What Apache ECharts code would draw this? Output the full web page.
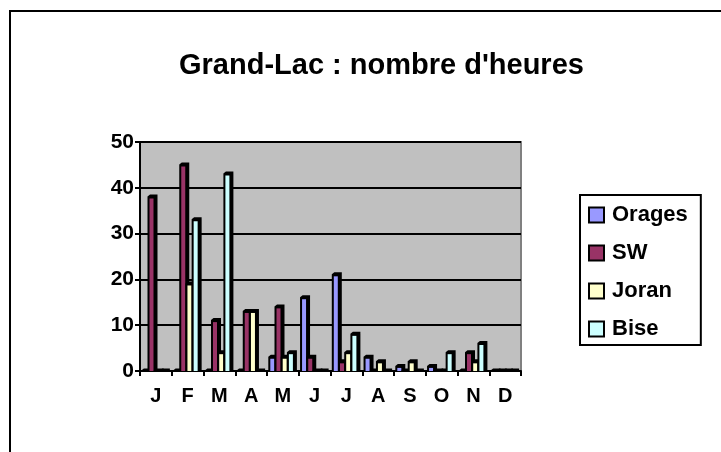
<!DOCTYPE html>
<html>
<head>
<meta charset="utf-8">
<script src="https://cdn.jsdelivr.net/npm/echarts@6/dist/echarts.min.js"></script>
<style>
html, body { margin: 0; padding: 0; background: #fff; }
#chart { width: 721px; height: 452px; }
</style>
</head>
<body>
<div id="chart"></div>
<script>
var months = ['J', 'F', 'M', 'A', 'M', 'J', 'J', 'A', 'S', 'O', 'N', 'D'];
var orages = [0, 0, 0, 0, 3, 16, 21, 3, 1, 1, 0, 0];
var sw     = [38, 45, 11, 13, 14, 3, 2, 0, 0, 0, 4, 0];
var joran  = [0, 19, 4, 13, 3, 0, 4, 2, 2, 0, 2, 0];
var bise   = [0, 33, 43, 0, 4, 0, 8, 0, 0, 4, 6, 0];
var yTicks = [0, 10, 20, 30, 40, 50];

var font = 'Liberation Sans, Arial, sans-serif';

// old excel style bar: black depth block behind, coloured front face
function bar(name, data, color, slot) {
  return {
    name: name,
    type: 'custom',
    itemStyle: { color: color, borderColor: '#000', borderWidth: 2 },
    encode: { x: 0, y: 1 },
    data: data.map(function (v, i) { return [i, v]; }),
    renderItem: function (params, api) {
      var base = api.coord([api.value(0), 0]);
      var top = api.coord([api.value(0), api.value(1)]);
      var band = api.size([1, 0])[0];
      var x0 = base[0] - band / 2 + 1.3 + slot * 6.2;
      var y0 = base[1];
      var y1 = top[1];
      return {
        type: 'group',
        children: [{
          type: 'polygon',
          shape: { points: [[x0, y0], [x0, y1 - 0.5], [x0 + 2.5, y1 - 2.5], [x0 + 10, y1 - 2.5], [x0 + 10, y0]] },
          style: { fill: '#000' }
        }, {
          type: 'rect',
          shape: { x: x0 + 2, y: Math.min(y1 + 1.5, y0), width: 4, height: Math.max(y0 - y1 - 1.5, 0) },
          style: { fill: color }
        }]
      };
    }
  };
}

var chart = echarts.init(document.getElementById('chart'));
chart.setOption({
  animation: false,
  backgroundColor: '#fff',
  title: {
    text: "Grand-Lac : nombre d'heures",
    left: 174,
    top: 46,
    textStyle: { fontFamily: font, fontWeight: 'bold', fontSize: 29, color: '#000' }
  },
  graphic: [{
    type: 'rect',
    shape: { x: 10, y: 11, width: 720, height: 450 },
    style: { fill: 'none', stroke: '#000', lineWidth: 2 },
    silent: true
  }],
  legend: {
    orient: 'vertical',
    left: 580,
    top: 195,
    padding: [9, 13, 5, 8],
    borderColor: '#000',
    borderWidth: 2,
    itemWidth: 15,
    itemHeight: 15,
    itemGap: 16,
    icon: 'rect',
    itemStyle: { borderColor: '#000', borderWidth: 2 },
    textStyle: { fontFamily: font, fontWeight: 'bold', fontSize: 22, color: '#000', padding: [0, 0, 0, 3] },
    data: ['Orages', 'SW', 'Joran', 'Bise']
  },
  grid: {
    left: 140, top: 142, width: 381, height: 229,
    show: true,
    backgroundColor: '#c0c0c0',
    borderColor: '#808080',
    borderWidth: 2
  },
  xAxis: {
    type: 'category',
    data: months,
    axisLine: { lineStyle: { color: '#000', width: 2 } },
    axisTick: { show: true, alignWithLabel: false, length: 5, lineStyle: { color: '#000', width: 2 } },
    axisLabel: { fontFamily: font, fontWeight: 'bold', fontSize: 20, color: '#000', margin: 15 }
  },
  yAxis: {
    type: 'value',
    min: yTicks[0],
    max: yTicks[yTicks.length - 1],
    interval: 10,
    axisLine: { show: true, lineStyle: { color: '#000', width: 2 } },
    axisTick: { show: true, length: 5, lineStyle: { color: '#000', width: 2 } },
    axisLabel: { fontFamily: font, fontWeight: 'bold', fontSize: 21, color: '#000', margin: 6 },
    splitLine: { lineStyle: { color: '#000', width: 2 } }
  },
  series: [
    bar('Orages', orages, '#9999ff', 0),
    bar('SW', sw, '#993366', 1),
    bar('Joran', joran, '#ffffcc', 2),
    bar('Bise', bise, '#ccffff', 3)
  ]
});
</script>
</body>
</html>
